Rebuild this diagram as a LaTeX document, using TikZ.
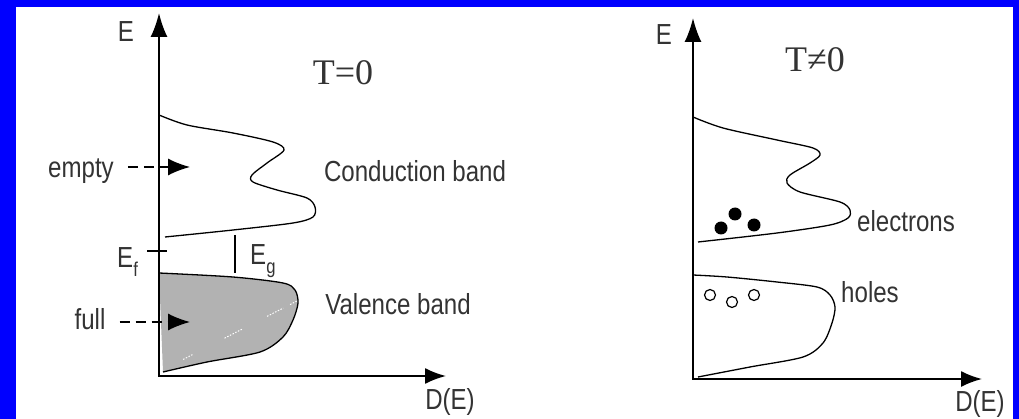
\documentclass[tikz,border=0pt]{standalone}
\usepackage{fontspec}
\newfontfamily\labelfont[FakeStretch=0.83]{Liberation Sans}
\newfontfamily\tempfont{Liberation Serif}
\usetikzlibrary{arrows.meta}
\usetikzlibrary{calc}

\newcommand{\lowsub}[1]{\raisebox{-9pt}{\fontsize{20}{20}\selectfont #1}}

\begin{document}
\begin{tikzpicture}[x=1pt, y=-1pt,
    every node/.style={font=\labelfont\fontsize{29}{32}\selectfont, text=black!80, inner sep=2pt},
    temp/.style={font=\tempfont\fontsize{36}{40}\selectfont},
    axis/.style={line width=1.8pt, {Latex[length=24pt,width=17pt]}-{Latex[length=21pt,width=16pt]}},
    band/.style={line width=1.3pt},
    dasharrow/.style={line width=1.3pt, dash pattern=on 10pt off 6pt, shorten <=12pt, -{Latex[length=22pt,width=17pt]}},
    wdots/.style={white, line width=1pt, dash pattern=on 1.5pt off 1.5pt}]

        \useasboundingbox (0,0) rectangle (1019,419);
        \fill[blue] (0,0) rectangle (1019,419);
        \fill[white] (16,7) rectangle (1013,419);

        % T = 0
        \coordinate (o1) at (159,376);
        \coordinate (ytip1) at (159,13);
        \coordinate (xtip1) at (446,376);

        \fill[gray!60] plot[smooth] coordinates {(159,273) (233,277) (283,283) (295,290) (298,303) (293,320) (283,337) (260,352) (207,362) (163,372)} -- cycle;
        \coordinate (w1) at (182,360);
        \coordinate (w2) at (297,301);
        \foreach \a/\b in {0.01/0.09, 0.37/0.52, 0.74/0.88, 0.94/1} {
          \draw[wdots] ($(w1)!\a!(w2)$) -- ($(w1)!\b!(w2)$);
        }
        \draw[band] plot[smooth] coordinates {(159,273) (233,277) (283,283) (295,290) (298,303) (293,320) (283,337) (260,352) (207,362) (163,372)};
        \draw[band] plot[smooth] coordinates {(159,115) (187,125) (233,133) (273,142) (284,150) (267,163) (252,175) (253,182) (277,190) (307,198) (315,207) (313,217) (293,223) (233,230) (165,237)};

        \draw[axis] (ytip1) -- (o1) -- (xtip1);

        \node[anchor=base] (e1) at (126,42) {E};
        \node[anchor=base] (d1) at (450,409) {D(E)};
        \node[anchor=base, temp] (t1) at (343,85) {T=0};
        \node[anchor=base] (cond) at (415,182) {Conduction band};
        \node[anchor=base] (val) at (398,315) {Valence band};
        \node[anchor=base] (empty) at (81,178) {empty};
        \node[anchor=base] (full) at (90,330) {full};
        \node[anchor=base west] (ef) at (115,268) {E\lowsub{f}};
        \node[anchor=base west] (eg) at (248,265) {E\lowsub{g}};

        \coordinate (emptytip) at (190,167);
        \coordinate (fulltip) at (190,322);
        \draw[dasharrow] (empty.east |- emptytip) -- (emptytip);
        \draw[dasharrow] (full.east |- fulltip) -- (fulltip);

        \draw[band] (147,251) -- (167,251);
        \draw[band] (235,235) -- (235,273);

        % T != 0
        \coordinate (o2) at (693,379);
        \coordinate (ytip2) at (693,18);
        \coordinate (xtip2) at (982,379);

        \draw[band] plot[smooth] coordinates {(693,117) (723,128) (777,140) (813,148) (820,155) (810,163) (790,175) (787,183) (800,192) (840,202) (850,210) (848,218) (830,225) (777,233) (698,242)};
        \draw[band] plot[smooth] coordinates {(693,275) (727,277) (777,282) (817,287) (830,295) (835,307) (832,323) (823,343) (803,357) (750,367) (698,377)};

        \draw[axis] (ytip2) -- (o2) -- (xtip2);

        \foreach \p in {(721,228), (735,214), (754,225)} {
          \fill \p circle (6.5pt);
        }
        \foreach \p in {(710,295), (732,302), (754,295)} {
          \draw[line width=1.2pt] \p circle (5.5pt);
        }

        \node[anchor=base] (e2) at (664,45) {E};
        \node[anchor=base] (d2) at (980,411) {D(E)};
        \node[anchor=base, temp] (t2) at (815,72) {T≠0};
        \node[anchor=base] (elec) at (906,232) {electrons};
        \node[anchor=base] (holes) at (870,303) {holes};

      \end{tikzpicture}
\end{document}
